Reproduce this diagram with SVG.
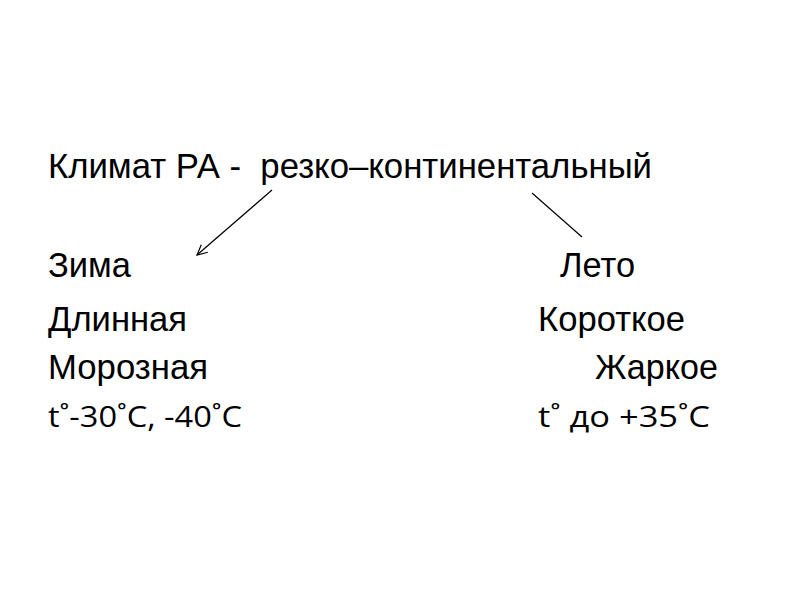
<svg xmlns="http://www.w3.org/2000/svg" width="800" height="600" viewBox="0 0 800 600">
<style>
.a{font-family:"Liberation Sans",Arial,sans-serif;font-size:35px;fill:#000}
.c{font-family:"Open Sans","Noto Sans",sans-serif;font-size:30px;fill:#000}
.ln{stroke:#000;stroke-width:1.2;fill:none}
</style>
<defs>
<marker id="arr" markerWidth="14" markerHeight="14" refX="11" refY="6" orient="auto" markerUnits="userSpaceOnUse">
<path d="M1,1 L11,6 L1,11" fill="none" stroke="#000" stroke-width="1.2"/>
</marker>
</defs>
<rect width="800" height="600" fill="#fff"/>
<g id="title"><text class="a" x="48" y="178" textLength="604" lengthAdjust="spacingAndGlyphs" xml:space="preserve">Климат РА -  резко–континентальный</text></g>
<g id="winter">
<text class="a" x="48" y="277" textLength="83" lengthAdjust="spacingAndGlyphs">Зима</text>
<text class="a" x="48" y="331" textLength="139" lengthAdjust="spacingAndGlyphs">Длинная</text>
<text class="a" x="48" y="379" textLength="160" lengthAdjust="spacingAndGlyphs">Морозная</text>
<text class="c" x="48" y="427" textLength="194" lengthAdjust="spacingAndGlyphs">t˚-30˚C, -40˚C</text>
</g>
<g id="summer">
<text class="a" x="560" y="277" textLength="75" lengthAdjust="spacingAndGlyphs">Лето</text>
<text class="a" x="538" y="331" textLength="147" lengthAdjust="spacingAndGlyphs">Короткое</text>
<text class="a" x="595" y="379" textLength="123" lengthAdjust="spacingAndGlyphs">Жаркое</text>
<text class="c" x="538" y="427" textLength="172" lengthAdjust="spacingAndGlyphs">t˚ до +35˚C</text>
</g>
<g id="connectors">
<line class="ln" x1="272" y1="190" x2="197" y2="255" marker-end="url(#arr)"/>
<line class="ln" x1="532" y1="193" x2="582" y2="237"/>
</g>
</svg>
